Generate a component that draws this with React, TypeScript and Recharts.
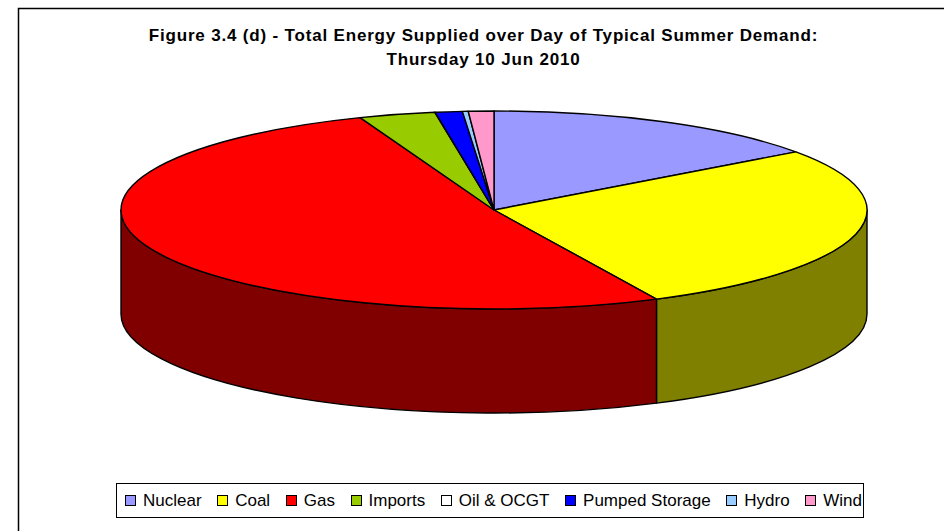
import { Legend, Pie, PieChart } from 'recharts';

const SOURCES = ["Nuclear", "Coal", "Gas", "Imports", "Oil & OCGT", "Pumped Storage", "Hydro", "Wind"]
const SHARES = [15.0, 27.8, 51.3, 3.3, 0.02, 1.17, 0.25, 1.1]
const COLORS = ["#9999ff", "#ffff00", "#ff0000", "#99cc00", "#ffffff", "#0000ff", "#99ccff", "#ff99cc"]
const SIDE_COLORS = ["#4c4c80", "#808000", "#800000", "#4c6600", "#808080", "#000080", "#4c6680", "#804c66"]

const TITLE_LINES = [
    "Figure 3.4 (d) - Total Energy Supplied over Day of Typical Summer Demand:",
    "Thursday 10 Jun 2010",
]

// the pie is tilted, so the circle recharts hands us gets squashed to an ellipse
const TILT = 99 / 373
const DEPTH = 104

const data = SOURCES.map((name, i) => ({
    name,
    value: SHARES[i],
    fill: COLORS[i],
    sideFill: SIDE_COLORS[i],
}))

const point = (p: any, angle: number, drop = 0) => {
    const rad = (angle * Math.PI) / 180
    return {
        x: p.cx + p.outerRadius * Math.cos(rad),
        y: p.cy - p.outerRadius * TILT * Math.sin(rad) + drop,
    }
}

function TopSlice(props: any) {
    const ry = props.outerRadius * TILT
    const a = point(props, props.startAngle)
    const b = point(props, props.endAngle)
    const large = Math.abs(props.endAngle - props.startAngle) > 180 ? 1 : 0
    const d = `M${props.cx},${props.cy} L${a.x},${a.y} A${props.outerRadius},${ry} 0 ${large} 1 ${b.x},${b.y} Z`
    return <path d={d} fill={props.fill} stroke="#000" strokeWidth={1.4} strokeLinejoin="round" />
}

// wall under the slice, only the part that faces the viewer (angles below the horizontal)
function SideSlice(props: any) {
    const from = Math.max(Math.min(props.startAngle, props.endAngle), -180)
    const to = Math.min(Math.max(props.startAngle, props.endAngle), 0)
    // angles run 90 -> -270 clockwise, the front half is 0 -> -180
    if (to <= from) return null
    const ry = props.outerRadius * TILT
    const a = point(props, to)
    const b = point(props, from)
    const a2 = point(props, to, DEPTH)
    const b2 = point(props, from, DEPTH)
    const rx = props.outerRadius
    const d = `M${a.x},${a.y} A${rx},${ry} 0 0 1 ${b.x},${b.y} L${b2.x},${b2.y} A${rx},${ry} 0 0 0 ${a2.x},${a2.y} Z`
    return <path d={d} fill={props.payload?.sideFill ?? props.sideFill} stroke="#000" strokeWidth={1.4} strokeLinejoin="round" />
}

function LegendBox() {
    return (
        <div style={{ display: "flex", alignItems: "center", height: 33, paddingLeft: 8, whiteSpace: "nowrap", boxSizing: "border-box" }}>
            {SOURCES.map((name, i) => (
                <span key={name} style={{ display: "flex", alignItems: "center", marginRight: 15.6 }}>
                    <span style={{ width: 9, height: 9, border: "1px solid #000", background: COLORS[i], marginRight: 7 }} />
                    <span>{name}</span>
                </span>
            ))}
        </div>
    )
}

export default function App() {
    return (
        <div style={{ position: "absolute", left: 0, top: 0, width: 944, height: 531, background: "#fff", fontFamily: "'Liberation Sans', Arial, sans-serif" }}>
            <PieChart width={944} height={531} margin={{ top: 0, right: 0, bottom: 0, left: 0 }}>
                <rect x={18.5} y={8.5} width={1000} height={600} fill="#fff" stroke="#000" strokeWidth={1.5} />
                <text x={483.5} y={41} textAnchor="middle" fontSize={17} letterSpacing={0.82} fontWeight="bold" fill="#000">{TITLE_LINES[0]}</text>
                <text x={483.5} y={65} textAnchor="middle" fontSize={17} letterSpacing={0.82} fontWeight="bold" fill="#000">{TITLE_LINES[1]}</text>
                <Pie
                    data={data}
                    dataKey="value"
                    nameKey="name"
                    cx={494}
                    cy={210}
                    outerRadius={373}
                    startAngle={90}
                    endAngle={-270}
                    stroke="#000"
                    legendType="none"
                    shape={SideSlice}
                    isAnimationActive={false}
                />
                <Pie
                    data={data}
                    dataKey="value"
                    nameKey="name"
                    cx={494}
                    cy={210}
                    outerRadius={373}
                    startAngle={90}
                    endAngle={-270}
                    stroke="#000"
                    shape={TopSlice}
                    isAnimationActive={false}
                />
                <Legend
                    content={<LegendBox />}
                    wrapperStyle={{ left: 116, top: 483, width: 748, height: 35, border: "1px solid #000", background: "#fff", fontSize: 17, color: "#000", boxSizing: "border-box" }}
                />
            </PieChart>
        </div>
    )
}
